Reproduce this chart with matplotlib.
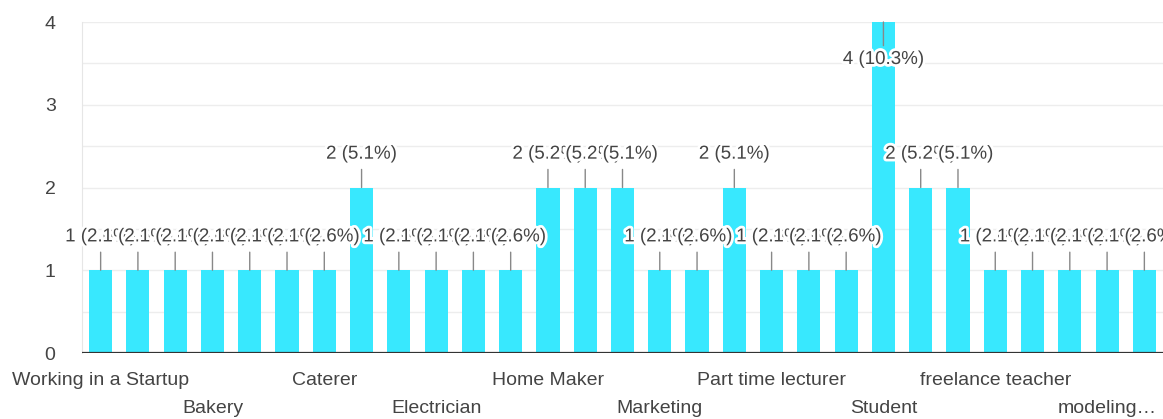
import matplotlib

matplotlib.use("Agg")
import matplotlib.pyplot as plt
import matplotlib.patheffects as pe
import numpy as np

# ---------- data ---------- #
categories = [
    "Working in a Startup", "", "", "Bakery", "", "", "Caterer", "", "",
    "Electrician", "", "", "Home Maker", "", "", "Marketing", "", "",
    "Part time lecturer", "", "", "Student", "", "", "freelance teacher",
    "", "", "modeling…", "",
]
counts = [1, 1, 1, 1, 1, 1, 1, 2, 1, 1, 1, 1, 2, 2, 2, 1, 1, 2, 1, 1, 1, 4,
          2, 2, 1, 1, 1, 1, 1]
y_ticks = [0, 1, 2, 3, 4]

BAR = "#38E8FE"
TXT = "#444444"
plt.rcParams["font.family"] = ["Liberation Sans", "DejaVu Sans"]

total = sum(counts)
x = np.arange(len(counts))

fig = plt.figure(figsize=(11.63, 4.19), dpi=100)
ax = fig.add_axes([82 / 1163, 1 - 353 / 419, 1081 / 1163, 331 / 419])

ax.bar(x, counts, width=0.62, color=BAR, zorder=2)
ax.set_xlim(-0.5, len(counts) - 0.5)
ax.set_ylim(0, 4)

# grid every 0.5
for g in np.arange(0.5, 4.01, 0.5):
    ax.axhline(g, color="#ededed", lw=1, zorder=0)
ax.axhline(0, color="#333333", lw=1.6, zorder=3)

for s in ["top", "right", "bottom"]:
    ax.spines[s].set_visible(False)
ax.spines["left"].set_color("#e6e6e6")

ax.set_yticks(y_ticks)
ax.set_yticklabels([str(t) for t in y_ticks], fontsize=14, color=TXT)
ax.tick_params(axis="y", length=0, pad=19)
ax.set_xticks([])

# staggered category labels
for i, name in enumerate(categories):
    if not name:
        continue
    row = (i // 3) % 2
    ax.annotate(name, xy=(i, 0), xycoords="data",
                xytext=(0, -20 - row * 20), textcoords="offset points",
                ha="center", va="center", fontsize=14, color=TXT,
                annotation_clip=False)

# value labels with leader lines
halo = [pe.withStroke(linewidth=4, foreground="white")]
for i, v in enumerate(counts):
    pct = 100 * v / total
    label = f"{v} ({pct:.1f}%)"
    if v >= 4:
        line_end, text_off = -17, -27
    else:
        line_end, text_off = 13, 24
    ax.annotate("", xy=(i, v), xytext=(0, line_end), textcoords="offset points",
                arrowprops=dict(arrowstyle="-", color="#888888", lw=1,
                                shrinkA=0, shrinkB=0), zorder=4,
                annotation_clip=False)
    ax.annotate(label, xy=(i, v), xytext=(0, text_off), textcoords="offset points",
                ha="center", va="center", fontsize=13.5, color=TXT,
                path_effects=halo, zorder=5, annotation_clip=False)

fig.savefig("out.png", dpi=100)
